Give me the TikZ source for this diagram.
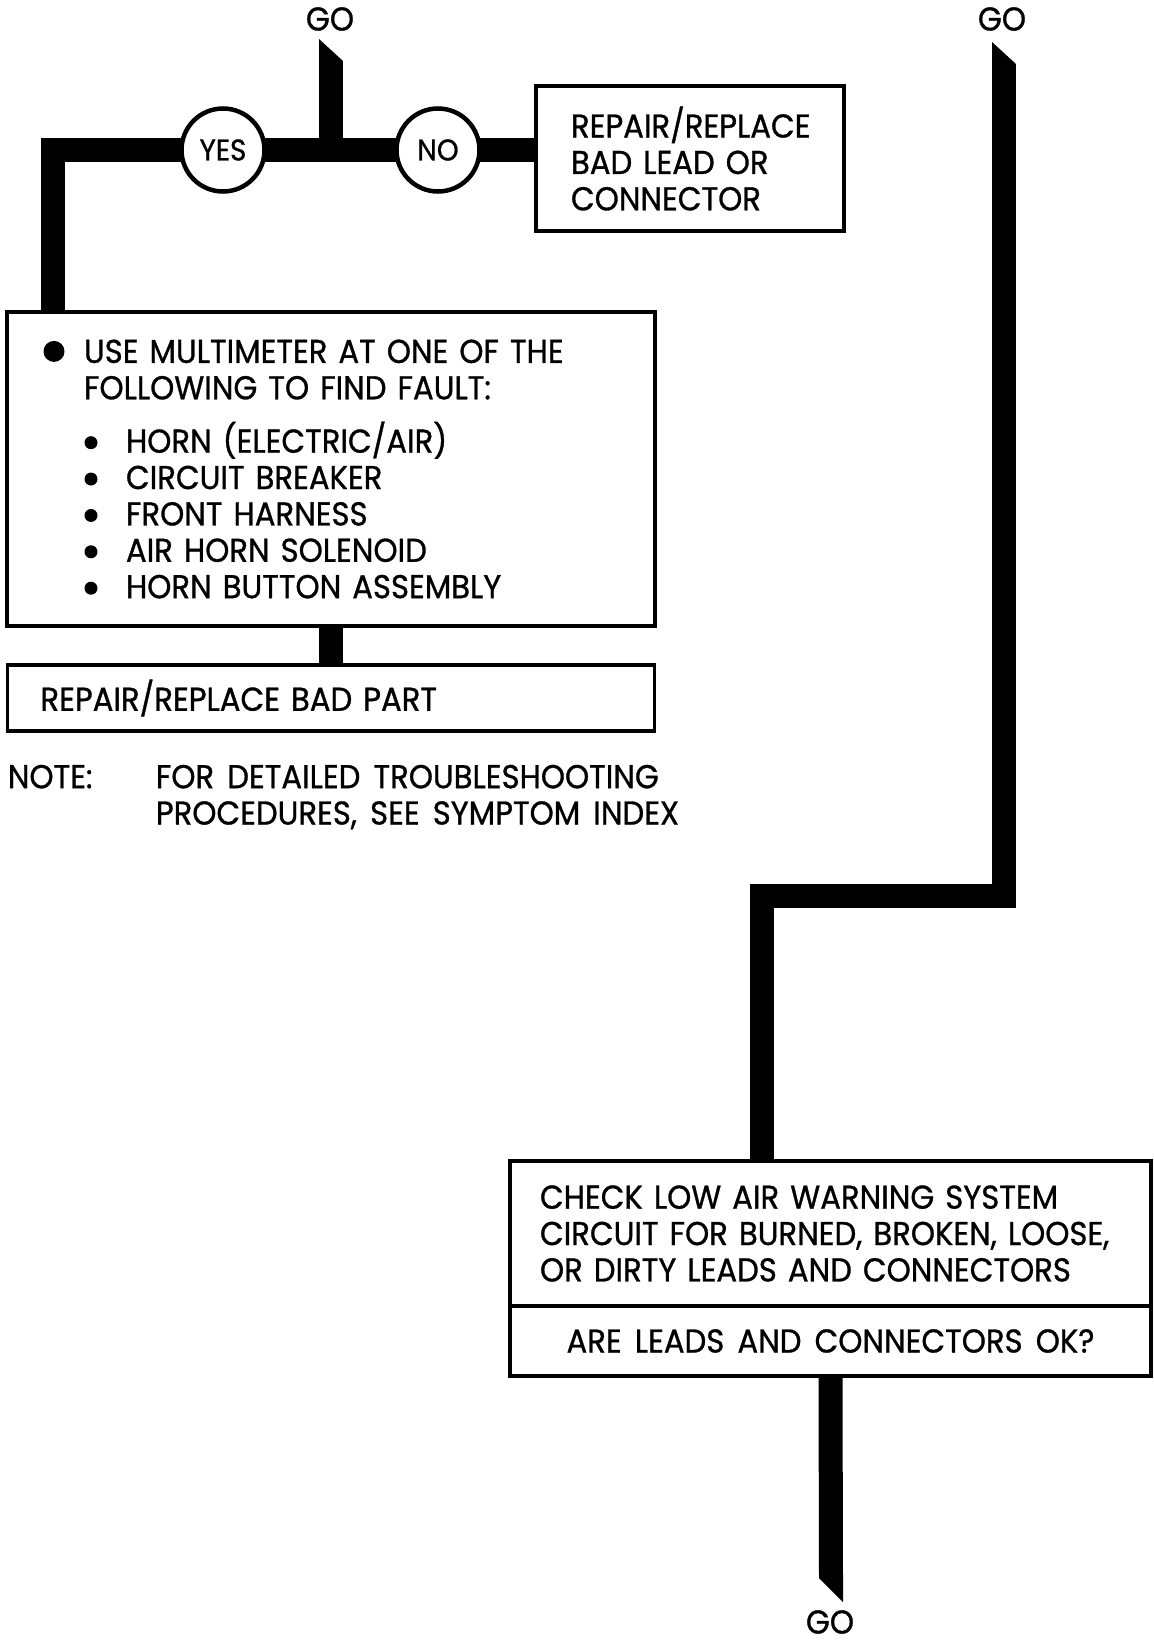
\documentclass[tikz,border=0pt]{standalone}
\usepackage{fontspec}
\setmainfont{Poppins}[FakeStretch=0.93, WordSpace=1.6, FakeBold=0.9]
\usetikzlibrary{positioning}

\newcommand{\bigbul}{\tikz[baseline=-0.23cm]\fill (0,0) circle (0.21cm);}
\newcommand{\smallbul}{\tikz[baseline=-0.2cm]\fill (0,0) circle (0.13cm);}

\begin{document}
\begin{tikzpicture}[
    node distance=0.78cm,
    every node/.style={font=\fontsize{18.8}{20.7}\selectfont},
    box/.style={draw, line width=0.07cm, anchor=north west, align=left, inner ysep=0pt, outer sep=0pt},
    reply/.style={draw, circle, line width=0.09cm, fill=white, minimum size=1.66cm, inner sep=0pt, outer sep=0pt, font=\fontsize{17}{18}\selectfont},
    flow/.style={line width=0.48cm, line cap=butt, line join=miter},
    golabel/.style={inner sep=0pt}
  ]
    \useasboundingbox (0,0) rectangle (23.06,-32.88);

    % entry from the top left
    \node[golabel] (goA) at (6.60,-0.38) {GO};
    \coordinate (tipA) at (6.62,-1.22);
    \coordinate (jA) at (6.62,-3.00);
    \coordinate (cornerL) at (1.06,-3.00);

    \node[reply] (yes) at (4.46,-3.00) {YES};
    \node[reply] (no) at (8.76,-3.00) {NO};

    \node[box, minimum width=6.16cm, minimum height=2.90cm, inner xsep=0.70cm, text width=4.76cm] (fixlead) at (10.72,-1.72)
      {\mbox{REPAIR/REPLACE}\\BAD LEAD OR\\CONNECTOR};

    \node[box, minimum width=12.96cm, minimum height=6.28cm, inner xsep=0.73cm, text width=11.50cm] (multi) at (0.14,-6.24)
      {\makebox[0.81cm][l]{\bigbul}USE MULTIMETER AT ONE OF THE\\
       \hspace*{0.81cm}FOLLOWING TO FIND FAULT:\\[0.34cm]
       \hspace*{0.82cm}\makebox[0.83cm][l]{\smallbul}HORN (ELECTRIC/AIR)\\
       \hspace*{0.82cm}\makebox[0.83cm][l]{\smallbul}CIRCUIT BREAKER\\
       \hspace*{0.82cm}\makebox[0.83cm][l]{\smallbul}FRONT HARNESS\\
       \hspace*{0.82cm}\makebox[0.83cm][l]{\smallbul}AIR HORN SOLENOID\\
       \hspace*{0.82cm}\makebox[0.83cm][l]{\smallbul}HORN BUTTON ASSEMBLY};

    \node[box, below=0.78cm of multi, minimum width=12.94cm, minimum height=1.32cm, inner xsep=0.66cm, text width=11.62cm] (fixpart)
      {REPAIR/REPLACE BAD PART};

    \node[align=left, inner sep=0pt, below=0.67cm of fixpart.south west, anchor=north west] (note)
      {\makebox[2.96cm][l]{NOTE:}FOR DETAILED TROUBLESHOOTING\\
       \hspace*{2.96cm}PROCEDURES, SEE SYMPTOM INDEX};

    % entry from the top right
    \node[golabel] (goB) at (20.04,-0.38) {GO};
    \coordinate (tipB) at (20.08,-1.28);
    \coordinate (bendR) at (15.24,-17.92);

    \node[box, minimum width=12.82cm, minimum height=2.90cm, inner xsep=0.60cm, text width=11.62cm] (check) at (10.20,-23.22)
      {\mbox{CHECK LOW AIR WARNING SYSTEM}\\
       \mbox{CIRCUIT FOR BURNED, BROKEN, LOOSE,}\\
       \mbox{OR DIRTY LEADS AND CONNECTORS}};
    \node[box, align=center, below=0cm of check, minimum width=12.82cm, minimum height=1.40cm] (ask)
      {ARE LEADS AND CONNECTORS OK?};

    \coordinate (tipC) at (16.62,-31.56);
    \node[golabel] (goC) at (16.60,-32.44) {GO};

    % thick flow lines
    \draw[flow] (tipA) -- (jA);
    \fill (tipA) ++(-0.24,0) -- ++(0,0.44) -- ++(0.48,-0.44) -- cycle;
    \draw[flow] (yes) -- (no);
    \draw[flow] (yes) -- (cornerL) -- (cornerL |- multi.north);
    \draw[flow] (no) -- (no -| fixlead.west);
    \draw[flow] (multi.south) -- (fixpart.north);

    \draw[flow] (tipB) |- (bendR) -- (bendR |- check.north);
    \fill (tipB) ++(-0.24,0) -- ++(0,0.44) -- ++(0.48,-0.44) -- cycle;

    \draw[flow] (ask.south) -- (tipC);
    \fill (tipC) ++(-0.24,0) -- ++(0.48,0) -- ++(0,-0.48) -- cycle;
  \end{tikzpicture}
\end{document}
